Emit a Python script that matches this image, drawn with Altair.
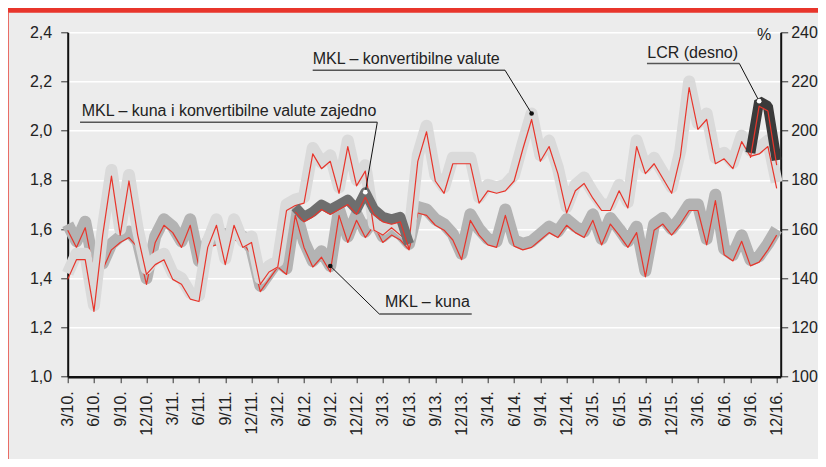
import json
import altair as alt
import pandas as pd

# ---- data (monthly, March 2010 = index 0) ----
kuna = [
    1.62, 1.55, 1.63, 1.45, 1.46, 1.54, 1.57, 1.59, 1.55, 1.40,
    1.57, 1.64, 1.61, 1.55, 1.64, 1.47, 1.55, 1.56, 1.58, 1.58,
    1.57, 1.52, 1.37, 1.42, 1.47, 1.44, 1.68, 1.55, 1.47, 1.51,
    1.45, 1.68, 1.57, 1.66, 1.59, 1.64, 1.57, 1.60, 1.58, 1.54,
    1.69, 1.68, 1.64, 1.62, 1.58, 1.50, 1.66, 1.60, 1.56, 1.55,
    1.68, 1.555, 1.54, 1.55, 1.58, 1.61, 1.59, 1.64, 1.61, 1.59,
    1.66, 1.56, 1.645, 1.60, 1.55, 1.61, 1.43, 1.62, 1.645, 1.60,
    1.645, 1.70, 1.70, 1.56, 1.74, 1.52, 1.495, 1.575, 1.475, 1.49,
    1.54, 1.60,
]
konv = [
    1.42, 1.50, 1.50, 1.29, 1.60, 1.84, 1.60, 1.82, 1.60, 1.44,
    1.48, 1.50, 1.42, 1.40, 1.34, 1.33, 1.55, 1.64, 1.48, 1.64,
    1.55, 1.57, 1.40, 1.45, 1.47, 1.70, 1.72, 1.73, 1.93, 1.87,
    1.90, 1.77, 1.96, 1.80, 1.86, 1.62, 1.60, 1.63, 1.60, 1.57,
    1.90, 2.02, 1.82, 1.77, 1.89, 1.89, 1.89, 1.73, 1.78, 1.77,
    1.78, 1.82, 1.95, 2.07, 1.90, 1.96, 1.85, 1.69, 1.78, 1.81,
    1.75, 1.70, 1.70, 1.78, 1.71, 1.96, 1.85, 1.89, 1.83, 1.77,
    1.92, 2.20, 2.03, 2.07, 1.89, 1.91, 1.87, 1.98, 1.92, 1.93,
    1.96, 1.79,
]
zajedno_start = 26
zajedno = [1.69, 1.65, 1.67, 1.70, 1.68, 1.70, 1.72, 1.68, 1.75, 1.68,
           1.65, 1.64, 1.65, 1.54]
lcr_start = 78
lcr = [191, 212, 210, 188]

x_tick_labels = [
    "3/10.", "6/10.", "9/10.", "12/10.", "3/11.", "6/11.", "9/11.", "12/11.",
    "3/12.", "6/12.", "9/12.", "12/12.", "3/13.", "6/13.", "9/13.", "12/13.",
    "3/14.", "6/14.", "9/14.", "12/14.", "3/15.", "6/15.", "9/15.", "12/15.",
    "3/16.", "6/16.", "9/16.", "12/16.",
]
left_ticks = [1.0, 1.2, 1.4, 1.6, 1.8, 2.0, 2.2, 2.4]
right_ticks = [100, 120, 140, 160, 180, 200, 220, 240]

series_labels = {
    "konv": "MKL – konvertibilne valute",
    "zaj": "MKL – kuna i konvertibilne valute zajedno",
    "kuna": "MKL – kuna",
    "lcr": "LCR (desno)",
}

# ---- styling ----
FONT = "Liberation Sans"
RED = "#e8352b"
C_KUNA = "#b3b3b3"
C_KONV = "#dadada"
C_ZAJ = "#6e6e6e"
C_LCR = "#3a3a3a"
TXT = "#222222"

n = len(kuna)
df_main = pd.DataFrame({"t": list(range(n)), "kuna": kuna, "konv": konv})
df_zaj = pd.DataFrame({"t": list(range(zajedno_start, zajedno_start + len(zajedno))), "v": zajedno})
df_lcr = pd.DataFrame({"t": list(range(lcr_start, lcr_start + len(lcr))), "v": lcr})

xs = alt.Scale(domain=[0, 81.46], nice=False, zero=False)
ysL = alt.Scale(domain=[1.0, 2.4], nice=False, zero=False)
ysR = alt.Scale(domain=[100, 240], nice=False, zero=False)

# identical axis object on every x encoding so the shared axis merges cleanly
x_axis = alt.Axis(
    values=list(range(0, 3 * len(x_tick_labels), 3)),
    labelExpr=json.dumps(x_tick_labels) + "[round(datum.value / 3)]",
    labelAngle=270, labelAlign="right", labelBaseline="middle",
    labelPadding=8, labelFontSize=16, labelColor=TXT, labelFont=FONT,
    domainColor="#111111", domainWidth=2.5, tickColor="#333333",
    tickSize=6, tickWidth=1, grid=False, title=None,
)
left_axis = alt.Axis(
    values=left_ticks,
    labelExpr="replace(format(datum.value, '.1f'), '.', ',')",
    grid=True, gridColor="#ffffff", gridWidth=1.6,
    domainColor="#111111", domainWidth=2, tickColor="#333333",
    tickSize=7, tickWidth=1, labelPadding=9, labelFontSize=16,
    labelColor=TXT, labelFont=FONT, title=None,
)
right_axis = alt.Axis(
    orient="right", values=right_ticks, grid=False,
    domainColor="#111111", domainWidth=2, tickColor="#333333",
    tickSize=7, tickWidth=1, labelPadding=3, labelFontSize=16,
    labelColor=TXT, labelFont=FONT,
    title="%", titleAngle=0, titleX=-10, titleY=2, titleAlign="right",
    titleBaseline="middle", titleFontSize=16, titleFontWeight="normal",
    titleColor=TXT, titleFont=FONT,
)


def X(field):
    return alt.X(field, scale=xs, axis=x_axis)


def band(df, field, color, width, ysc, yaxis=None, join="round"):
    return alt.Chart(df).mark_line(
        color=color, strokeWidth=width, strokeJoin=join, strokeCap="butt"
    ).encode(
        x=X("t:Q"),
        y=alt.Y(f"{field}:Q", scale=ysc, axis=yaxis),
    )


def redline(df, field, ysc, off):
    return alt.Chart(df).mark_line(
        color=RED, strokeWidth=1.2, yOffset=off, strokeJoin="round"
    ).encode(
        x=X("t:Q"),
        y=alt.Y(f"{field}:Q", scale=ysc, axis=None),
    )


# ---- annotations ----
ann_left = pd.DataFrame([
    dict(label=series_labels["konv"], tx=27.99, ty=2.290, u0=27.99, u1=49.96, uy=2.246,
         lx=49.96, px=53, pv=konv[53], dot="#111111"),
    dict(label=series_labels["zaj"], tx=1.6, ty=2.080, u0=1.41, u1=35.37, uy=2.034,
         lx=35.37, px=34, pv=zajedno[34 - zajedno_start], dot="#ffffff"),
    dict(label=series_labels["kuna"], tx=36.25, ty=1.302, u0=35.6, u1=46.16, uy=1.255,
         lx=35.6, px=30, pv=kuna[30], dot="#111111"),
])
ann_right = pd.DataFrame([
    dict(label=series_labels["lcr"], tx=66.22, ty=231.7, u0=66.18, u1=76.73, uy=227.35,
         lx=76.73, px=79, pv=lcr[79 - lcr_start], dot="#ffffff"),
])


def annotations(df, ysc):
    base = alt.Chart(df)
    under = base.mark_rule(color="#555555", strokeWidth=1.5).encode(
        x=X("u0:Q"), x2="u1:Q",
        y=alt.Y("uy:Q", scale=ysc, axis=None),
    )
    leader = base.mark_rule(color="#111111", strokeWidth=1).encode(
        x=X("lx:Q"), x2="px:Q",
        y=alt.Y("uy:Q", scale=ysc, axis=None), y2="pv:Q",
    )
    text = base.mark_text(
        align="left", baseline="middle", fontSize=16, font=FONT, color=TXT
    ).encode(
        x=X("tx:Q"),
        y=alt.Y("ty:Q", scale=ysc, axis=None),
        text="label:N",
    )
    dots = base.mark_point(filled=True, size=22, opacity=1).encode(
        x=X("px:Q"),
        y=alt.Y("pv:Q", scale=ysc, axis=None),
        color=alt.Color("dot:N", scale=None, legend=None),
    )
    return [under, leader, text, dots]


# ---- decorations (header band, left border) ----
deco_df = pd.DataFrame({"k": [0]})
header = alt.Chart(deco_df).mark_rect(color=RED).encode(
    x=alt.value(-60), x2=alt.value(760), y=alt.value(-25), y2=alt.value(-19.6)
)
left_border = alt.Chart(deco_df).mark_rule(color=RED, strokeWidth=1).encode(
    x=alt.value(-59.5), y=alt.value(-19.6), y2=alt.value(430)
)

layers = [
    band(df_main, "kuna", C_KUNA, 12, ysL, yaxis=left_axis),
    redline(df_main, "kuna", ysL, 6),
    band(df_main, "konv", C_KONV, 12, ysL),
    redline(df_main, "konv", ysL, 6),
    band(df_zaj, "v", C_ZAJ, 10, ysL),
    redline(df_zaj, "v", ysL, 5),
    *annotations(ann_left, ysL),
    band(df_lcr, "v", C_LCR, 10, ysR, yaxis=right_axis, join="bevel"),
    redline(df_lcr, "v", ysR, 5),
    *annotations(ann_right, ysR),
    header,
    left_border,
]

chart = alt.layer(*layers).resolve_scale(y="independent").properties(
    width=713, height=344.4,
    autosize=alt.AutoSizeParams(type="none"),
    padding={"left": 59.7, "top": 24.3, "right": 37.3, "bottom": 82.3},
    background="#ececec",
).configure(font=FONT).configure_view(strokeWidth=0)

chart.save("out.html", embed_options={"renderer": "svg", "actions": False})
